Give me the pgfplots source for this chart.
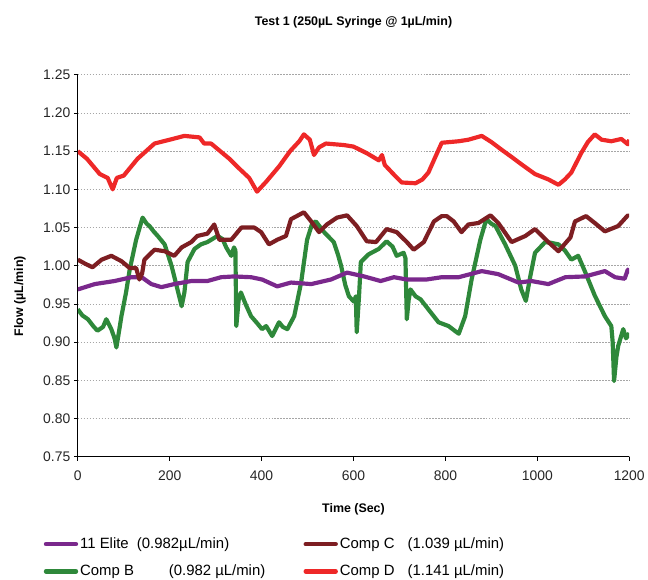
\documentclass[border=0pt]{standalone}
\usepackage{fontspec}
\setmainfont{Liberation Sans}
\usepackage{pgfplots}
\pgfplotsset{compat=1.18}

\definecolor{elite}{RGB}{122,40,140}
\definecolor{compb}{RGB}{46,136,58}
\definecolor{compc}{RGB}{125,30,34}
\definecolor{compd}{RGB}{238,40,40}

\begin{document}
\begin{tikzpicture}
\begin{axis}[
    name=ax,
    scale only axis,
    width=553bp, height=383bp,
    xmin=0, xmax=1200, ymin=0.75, ymax=1.25,
    xtick={0,200,...,1200},
    ytick={0.75,0.80,...,1.26},
    axis x line*=bottom, axis y line*=left,
    tick align=outside, major tick length=4bp,
    tick style={black, line width=0.6pt},
    axis line style={black, line width=0.8pt},
    ymajorgrids,
    grid style={gray!70, line width=0.8pt, dash pattern=on 1.4pt off 1.6pt},
    every axis plot/.append style={line width=4.2pt, line join=round},
    /pgf/number format/assume math mode=true,
    yticklabel style={/pgf/number format/.cd, fixed, fixed zerofill, precision=2},
    xticklabel style={yshift=-7bp, /pgf/number format/.cd, fixed, 1000 sep={}},
    ticklabel style={font=\fontsize{14}{16}\selectfont, text=black!85},
    title={\textbf{Test 1 (250µL Syringe @ 1µL/min)}},
    title style={at={(axis description cs:0.5,1.122)}, anchor=center, font=\fontsize{12.5}{14}\selectfont},
    xlabel={\textbf{Time (Sec)}},
    xlabel style={at={(axis description cs:0.5,-0.138)}, anchor=center, font=\fontsize{12.5}{14}\selectfont},
    ylabel={\textbf{Flow (µL/min)}},
    ylabel style={at={(axis description cs:-0.105,0.42)}, anchor=center, font=\fontsize{12.5}{14}\selectfont},
    legend columns=2,
    legend cell align=left,
    legend style={draw=none, fill=none, at={(axis description cs:-0.062,-0.207)}, anchor=north west,
        font=\fontsize{15}{17}\selectfont, row sep=11bp, inner sep=0pt,
        /tikz/every even column/.append style={column sep=0bp}},
    legend image code/.code={\draw[#1, line width=4.5pt, line cap=round] (0bp,0bp) -- (30bp,0bp);},
]
% Comp B
\addplot[compb, forget plot] coordinates {
(0,0.943) (10,0.935) (22,0.930) (35,0.920) (43,0.915) (55,0.920) (62,0.930) (73,0.917)
(80,0.905) (84,0.893) (90,0.915) (95,0.934) (105,0.965) (113,0.995) (127,1.034) (141,1.063)
(150,1.055) (156,1.052) (165,1.045) (174,1.039) (189,1.028) (196,1.015) (204,1.000) (217,0.969)
(226,0.947) (232,0.965) (239,1.005) (254,1.022) (268,1.028) (282,1.031) (304,1.039) (315,1.035)
(323,1.024) (334,1.013) (340,1.024) (343,1.020) (345,0.921) (350,0.955) (355,0.965) (365,0.950)
(377,0.934) (390,0.925) (401,0.917) (410,0.921) (423,0.908) (438,0.926) (446,0.920) (456,0.917)
(471,0.934) (486,0.978) (499,1.034) (510,1.055) (518,1.058) (536,1.044) (557,1.031) (566,1.015)
(573,1.000) (582,0.975) (590,0.960) (601,0.953) (605,0.960) (607,0.913) (612,0.960) (616,1.005)
(633,1.015) (655,1.022) (672,1.032) (685,1.025) (694,1.013) (709,1.017) (713,1.010) (716,0.930)
(720,0.955) (724,0.969) (735,0.960) (746,0.956) (768,0.939) (785,0.926) (807,0.921) (820,0.915)
(829,0.911) (843,0.934) (857,0.982) (876,1.034) (889,1.061) (900,1.055) (909,1.052) (930,1.028)
(952,1.000) (965,0.969) (975,0.954) (985,0.987) (995,1.017) (1017,1.031) (1030,1.030) (1046,1.028)
(1060,1.020) (1074,1.008) (1089,1.013) (1104,0.992) (1125,0.961) (1147,0.934) (1161,0.921) (1164,0.900)
(1167,0.849) (1172,0.880) (1176,0.895) (1187,0.917) (1193,0.905) (1197,0.908) (1200,0.912)};
% 11 Elite
\addplot[elite, forget plot] coordinates {
(0,0.969) (37,0.976) (80,0.980) (117,0.985) (139,0.985) (160,0.976) (182,0.972) (210,0.976)
(247,0.980) (282,0.980) (312,0.985) (340,0.986) (377,0.985) (401,0.982) (434,0.973) (464,0.978)
(508,0.976) (551,0.982) (586,0.991) (623,0.986) (659,0.980) (688,0.985) (716,0.982) (759,0.982)
(792,0.985) (829,0.985) (879,0.993) (915,0.989) (959,0.978) (987,0.980) (1024,0.976) (1061,0.985)
(1104,0.986) (1147,0.993) (1169,0.985) (1190,0.983) (1197,0.995) (1200,0.990)};
% Comp C
\addplot[compc, forget plot] coordinates {
(0,1.008) (15,1.003) (32,0.998) (52,1.008) (73,1.013) (95,1.006) (113,0.997) (127,0.997)
(134,0.982) (140,0.990) (145,1.008) (167,1.021) (189,1.019) (210,1.013) (226,1.024) (247,1.031)
(260,1.039) (282,1.042) (297,1.054) (308,1.034) (334,1.034) (356,1.050) (384,1.050) (399,1.044)
(416,1.028) (434,1.034) (453,1.039) (464,1.061) (492,1.070) (508,1.058) (525,1.044) (542,1.054)
(564,1.063) (586,1.066) (607,1.052) (629,1.032) (649,1.031) (672,1.048) (694,1.044) (716,1.031)
(731,1.021) (753,1.031) (775,1.058) (792,1.065) (803,1.065) (818,1.058) (835,1.044) (850,1.054)
(872,1.056) (898,1.066) (915,1.056) (944,1.031) (974,1.039) (995,1.048) (1024,1.031) (1046,1.019)
(1072,1.037) (1082,1.058) (1106,1.065) (1125,1.056) (1147,1.045) (1176,1.052) (1197,1.066) (1200,1.065)};
% Comp D
\addplot[compd, forget plot] coordinates {
(0,1.150) (20,1.140) (48,1.120) (65,1.115) (76,1.100) (85,1.115) (100,1.118) (130,1.140)
(167,1.160) (200,1.165) (232,1.170) (265,1.168) (275,1.160) (290,1.160) (310,1.150) (330,1.140)
(350,1.128) (373,1.115) (390,1.097) (410,1.110) (438,1.130) (462,1.150) (482,1.163) (492,1.172)
(505,1.165) (514,1.145) (525,1.155) (540,1.160) (579,1.158) (600,1.156) (630,1.147) (655,1.138)
(662,1.145) (668,1.132) (690,1.118) (705,1.109) (735,1.108) (750,1.113) (763,1.122) (780,1.145)
(792,1.161) (829,1.163) (850,1.165) (879,1.170) (900,1.162) (922,1.152) (945,1.142) (965,1.133)
(995,1.120) (1024,1.113) (1046,1.106) (1060,1.113) (1074,1.122) (1096,1.148) (1110,1.162) (1125,1.172)
(1140,1.165) (1161,1.163) (1183,1.166) (1197,1.159) (1200,1.165)};
\addlegendimage{elite}
\addlegendentry{\makebox[222bp][l]{\makebox[57bp][l]{11 Elite}(0.982µL/min)}}
\addlegendimage{compc}
\addlegendentry{\makebox[68bp][l]{Comp C}(1.039 µL/min)}
\addlegendimage{compb}
\addlegendentry{\makebox[222bp][l]{\makebox[89bp][l]{Comp B}(0.982 µL/min)}}
\addlegendimage{compd}
\addlegendentry{\makebox[68bp][l]{Comp D}(1.141 µL/min)}
\end{axis}
\path[use as bounding box] ([xshift=-78bp,yshift=-121bp]ax.south west) rectangle ([xshift=17bp,yshift=75bp]ax.north east);
\end{tikzpicture}
\end{document}
